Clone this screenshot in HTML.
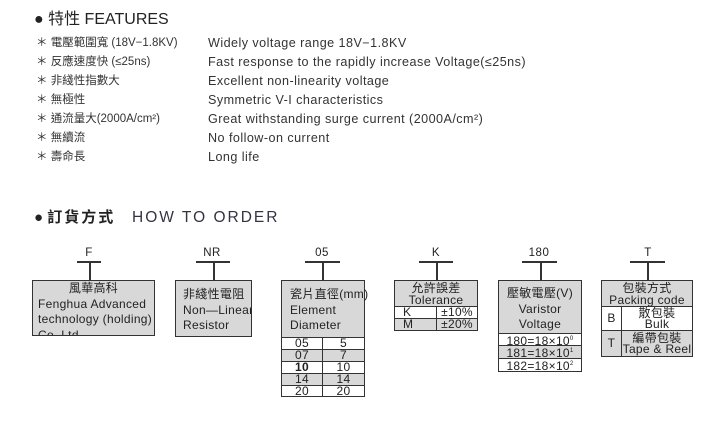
<!DOCTYPE html>
<html><head><meta charset="utf-8"><style>
body{margin:0;width:722px;height:421px;background:#fff;position:relative;overflow:hidden;font-family:"Liberation Sans","Noto Sans CJK TC",sans-serif;color:#222}
.a{position:absolute;white-space:nowrap}
.f{font-size:11.5px;line-height:14px}
.h{position:absolute;background:#333;height:1.5px}
.v{position:absolute;background:#333;width:1.5px}
.box{position:absolute;background:#d8d8d8;border:1.5px solid #333;box-sizing:border-box;font-size:12px;letter-spacing:0.3px;line-height:15.5px;white-space:nowrap}
.c{position:absolute;box-sizing:border-box;border:1px solid #333;font-size:12px;letter-spacing:0.3px;line-height:11px;text-align:center;white-space:nowrap}
.lab{position:absolute;font-size:11.5px;text-align:center;width:40px;letter-spacing:0.5px}
</style></head><body>
<div class="a" style="left:34px;top:10px;font-size:16px;line-height:20px">●&nbsp;特性 FEATURES</div>
<div class="a f" style="left:36px;top:34px;line-height:19px;color:#333">
＊ 電壓範圍寬 (18V−1.8KV)<br>＊ 反應速度快 (≤25ns)<br>＊ 非綫性指數大<br>＊ 無極性<br>＊ 通流量大(2000A/cm²)<br>＊ 無續流<br>＊ 壽命長</div>
<div class="a" style="left:208px;top:34px;line-height:19px;color:#333;font-size:12.6px;letter-spacing:0.45px">
Widely voltage range 18V−1.8KV<br>Fast response to the rapidly increase Voltage(≤25ns)<br>Excellent non-linearity voltage<br>Symmetric V-I characteristics<br>Great withstanding surge current (2000A/cm²)<br>No follow-on current<br>Long life</div>
<div class="a" style="left:34px;top:208px;font-size:15px;line-height:20px">●&nbsp;<b style="font-weight:bold;letter-spacing:2px">訂貨方式</b></div>
<div class="a" style="left:132px;top:208px;font-size:15.5px;line-height:20px;letter-spacing:2px;color:#334">HOW TO ORDER</div>

<!-- F -->
<div class="lab" style="left:69px;top:247px">F</div>
<div class="h" style="left:77px;top:261px;width:24px"></div>
<div class="v" style="left:89px;top:261px;height:20px"></div>
<div class="box" style="left:32px;top:280px;width:123px;height:56px;padding:0 0 0 5px;overflow:hidden">
<div style="text-align:center;margin-left:-5px">風華高科</div>Fenghua Advanced<br>technology (holding)<br>Co.,Ltd</div>
<!-- NR -->
<div class="lab" style="left:192px;top:247px">NR</div>
<div class="h" style="left:196px;top:261px;width:34px"></div>
<div class="v" style="left:213px;top:261px;height:20px"></div>
<div class="box" style="left:175px;top:280px;width:77px;height:57px;padding:6px 0 0 7px;overflow:hidden">非綫性電阻<br>Non—Linear<br>Resistor</div>
<!-- 05 -->
<div class="lab" style="left:302px;top:247px">05</div>
<div class="h" style="left:305px;top:261px;width:35px"></div>
<div class="v" style="left:322px;top:261px;height:20px"></div>
<div class="box" style="left:281px;top:280px;width:84px;height:58px;padding:6px 0 0 8px">瓷片直徑(mm)<br>Element<br>Diameter</div>
<div class="c" style="left:281px;top:337px;width:42px;height:13px;background:#fff">05</div>
<div class="c" style="left:322px;top:337px;width:43px;height:13px;background:#fff">5</div>
<div class="c" style="left:281px;top:349px;width:42px;height:13px;background:#d8d8d8">07</div>
<div class="c" style="left:322px;top:349px;width:43px;height:13px;background:#d8d8d8">7</div>
<div class="c" style="left:281px;top:361px;width:42px;height:13px;background:#fff;font-weight:bold">10</div>
<div class="c" style="left:322px;top:361px;width:43px;height:13px;background:#fff">10</div>
<div class="c" style="left:281px;top:373px;width:42px;height:13px;background:#d8d8d8">14</div>
<div class="c" style="left:322px;top:373px;width:43px;height:13px;background:#d8d8d8">14</div>
<div class="c" style="left:281px;top:385px;width:42px;height:12px;background:#fff">20</div>
<div class="c" style="left:322px;top:385px;width:43px;height:12px;background:#fff">20</div>
<!-- K -->
<div class="lab" style="left:416px;top:247px">K</div>
<div class="h" style="left:419px;top:261px;width:34px"></div>
<div class="v" style="left:436px;top:261px;height:20px"></div>
<div class="box" style="left:394px;top:280px;width:84px;height:27px;text-align:center;line-height:12px;padding-top:1px">允許誤差<br>Tolerance</div>
<div class="c" style="left:394px;top:306px;width:43px;height:13px;background:#fff;text-align:left;padding-left:8px">K</div>
<div class="c" style="left:436px;top:306px;width:42px;height:13px;background:#fff">±10%</div>
<div class="c" style="left:394px;top:318px;width:43px;height:13px;background:#d8d8d8;text-align:left;padding-left:8px">M</div>
<div class="c" style="left:436px;top:318px;width:42px;height:13px;background:#d8d8d8">±20%</div>
<!-- 180 -->
<div class="lab" style="left:519px;top:247px">180</div>
<div class="h" style="left:522px;top:261px;width:35px"></div>
<div class="v" style="left:540px;top:261px;height:20px"></div>
<div class="box" style="left:498px;top:280px;width:84px;height:54px;text-align:center;padding-top:5px">壓敏電壓(V)<br>Varistor<br>Voltage</div>
<div class="c" style="left:498px;top:333px;width:84px;height:13px;background:#fff">180=18×10<sup style="font-size:6px">0</sup></div>
<div class="c" style="left:498px;top:345px;width:84px;height:14px;background:#d8d8d8">181=18×10<sup style="font-size:6px">1</sup></div>
<div class="c" style="left:498px;top:358px;width:84px;height:14px;background:#fff">182=18×10<sup style="font-size:6px">2</sup></div>
<!-- T -->
<div class="lab" style="left:628px;top:247px">T</div>
<div class="h" style="left:630px;top:261px;width:35px"></div>
<div class="v" style="left:647px;top:261px;height:20px"></div>
<div class="box" style="left:601px;top:280px;width:92px;height:27px;text-align:center;line-height:12px;padding-top:1px">包裝方式<br>Packing code</div>
<div class="c" style="left:601px;top:306px;width:21px;height:25px;background:#fff;line-height:23px">B</div>
<div class="c" style="left:621px;top:306px;width:72px;height:25px;background:#fff;line-height:11px;padding-top:1px">散包裝<br>Bulk</div>
<div class="c" style="left:601px;top:330px;width:21px;height:27px;background:#d8d8d8;line-height:25px">T</div>
<div class="c" style="left:621px;top:330px;width:72px;height:27px;background:#d8d8d8;line-height:11px;padding-top:2px">編帶包裝<br>Tape &amp; Reel</div>
</body></html>
